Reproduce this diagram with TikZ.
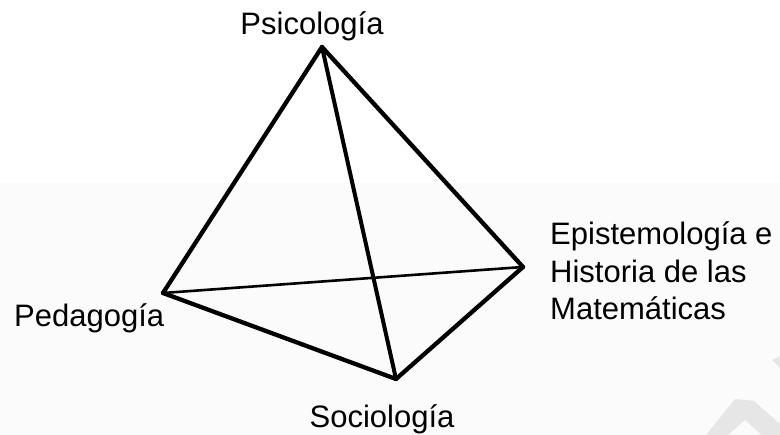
\documentclass[tikz,border=0pt]{standalone}
\usepackage{fontspec}
\setmainfont{Liberation Sans}
\usetikzlibrary{positioning}
\definecolor{Band}{HTML}{FBFBFB}
\definecolor{Mark}{HTML}{E6E6E6}

\begin{document}
\begin{tikzpicture}[x=1bp,y=-1bp,
    edge/.style={line width=4.3bp,line cap=round,line join=round},
    thinedge/.style={line width=2.6bp,line cap=round},
    label/.style={inner sep=0pt,font=\fontsize{31bp}{37.5bp}\selectfont}]
      \useasboundingbox (0,0) rectangle (780,435);
      \fill[Band] (0,183) rectangle (780,435);
      \fill[Mark] (706,435)--(735,399)--(754,401)--(780,424)--(780,435)--(762,435)--(745,420)--(728,435)--cycle;
      \fill[Mark] (772,360)--(780,356)--(780,368)--cycle;
      \coordinate (psi) at (322,47);
      \coordinate (ped) at (163,293);
      \coordinate (epi) at (523,267);
      \coordinate (soc) at (396,379);
      \draw[thinedge] (ped)--(epi);
      \draw[edge] (psi)--(ped);
      \draw[edge] (psi)--(epi);
      \draw[edge,line width=4bp] (psi)--(soc);
      \draw[edge] (ped)--(soc);
      \draw[edge] (soc)--(epi);
      \node[label,anchor=base] (psilabel) at (312,35){Psicología};
      \node[label,anchor=base west] (pedlabel) at (14,327){Pedagogía};
      \node[label,anchor=base] (soclabel) at (382,427){Sociología};
      \node[label,anchor=base west,align=left] (epilabel) at (550,320){Epistemología e\\Historia de las\\Matemáticas};
    \end{tikzpicture}
\end{document}
